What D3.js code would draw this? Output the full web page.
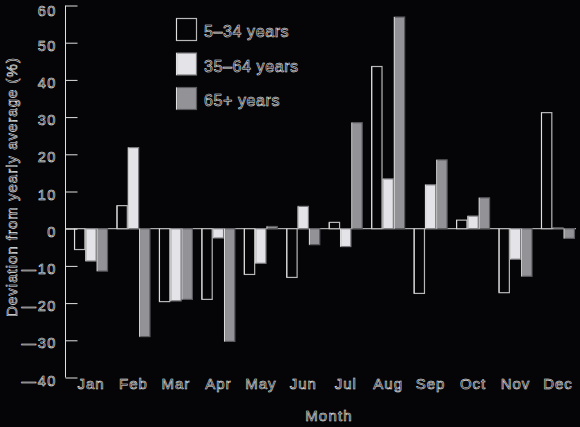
<!DOCTYPE html>
<html><head><meta charset="utf-8">
<script src="https://cdn.jsdelivr.net/npm/d3@7/dist/d3.min.js"></script>
<style>
html,body{margin:0;padding:0;background:#050407;}
svg{display:block;}
.t{font-family:"Liberation Sans",Arial,sans-serif;fill:#050407;stroke:#ececec;stroke-width:0.55px;}
</style></head>
<body>
<script>
const months = ["Jan","Feb","Mar","Apr","May","Jun","Jul","Aug","Sep","Oct","Nov","Dec"];
const seriesNames = ["5–34 years","35–64 years","65+ years"];
const young  = [-5.6, 6.2, -19.6, -19.0, -12.3, -13.1, 1.7, 43.6, -17.4, 2.3, -17.2, 31.2];
const middle = [-8.7, 21.8, -19.4, -2.5, -9.3, 6.0, -4.8, 13.4, 11.8, 3.4, -8.2, 0.2];
const old    = [-11.4, -29.0, -19.0, -30.3, 0.6, -4.3, 28.5, 56.9, 18.5, 8.3, -12.8, -2.6];
const yTicks = [60, 50, 40, 30, 20, 10, 0, -10, -20, -30, -40];

const W = 580, H = 427;
const svg = d3.select("body").append("svg").attr("width", W).attr("height", H);
svg.append("rect").attr("width", W).attr("height", H).attr("fill", "#050407");

const y = d3.scaleLinear().domain([-40, 60]).range([377.5, 5.5]);
const x = d3.scaleBand().domain(months).range([69.8, 579.2]).paddingInner(0.2).paddingOuter(0.1);
const xs = d3.scaleBand().domain([0,1,2]).range([0, x.bandwidth()]);

const fills = ["#050407", "#e4e4e8", "#939397"];
const strokes = ["#b8b8b8", "#7a7a7e", "#5a5a5e"];
const data = [young, middle, old];

// zero line
svg.append("line").attr("x1", 65.5).attr("x2", 576).attr("y1", y(0)).attr("y2", y(0))
  .attr("stroke", "#d0d0d0").attr("stroke-width", 1);

data.forEach((vals, si) => {
  svg.append("g").selectAll("rect").data(vals).join("rect")
    .attr("x", (d, i) => x(months[i]) + xs(si) + 0.5)
    .attr("width", xs.bandwidth() - 1)
    .attr("y", d => y(Math.max(0, d)))
    .attr("height", d => Math.abs(y(d) - y(0)))
    .attr("fill", fills[si])
    .attr("stroke", strokes[si])
    .attr("stroke-width", 1.2);
  svg.append("g").selectAll("line").data(vals).join("line")
    .attr("x1", (d, i) => x(months[i]) + xs(si) + 0.5)
    .attr("x2", (d, i) => x(months[i]) + xs(si) + 0.5)
    .attr("y1", d => y(Math.max(0, d)))
    .attr("y2", d => y(Math.min(0, d)))
    .attr("stroke", "#e0e0e0").attr("stroke-width", 1);
});

// y axis
const yAxis = d3.axisRight(y).tickValues(yTicks).tickSize(12).tickFormat("");
const gy = svg.append("g").attr("transform", "translate(65.5,0)").call(yAxis);
gy.select(".domain").attr("stroke", "#e0e0e0").attr("d", `M0,${y(60)}V${y(-40)}`);
gy.selectAll(".tick line").attr("stroke", "#e0e0e0");

svg.append("g").selectAll("text").data(yTicks).join("text")
  .attr("class", "t")
  .attr("x", 57).attr("y", d => y(d) + (d === 60 ? 10 : 8))
  .attr("text-anchor", "end")
  .attr("font-size", 14.5).attr("letter-spacing", 1.6)
  .text(d => d < 0 ? "—" + (-d) : d);

// month labels
svg.append("g").selectAll("text").data(months).join("text")
  .attr("class", "t")
  .attr("x", d => x(d) + x.bandwidth() / 2)
  .attr("y", 389)
  .attr("text-anchor", "middle")
  .attr("font-size", 15).attr("letter-spacing", 1)
  .text(d => d);

svg.append("text").attr("class", "t")
  .attr("x", 329).attr("y", 421).attr("text-anchor", "middle")
  .attr("font-size", 15).attr("letter-spacing", 1.2).text("Month");

svg.append("text").attr("class", "t")
  .attr("transform", "translate(17,187) rotate(-90)")
  .attr("text-anchor", "middle")
  .attr("font-size", 15).attr("letter-spacing", 1)
  .text("Deviation from yearly average (%)");

// legend
const lg = svg.append("g");
seriesNames.forEach((name, i) => {
  const yy = 18.5 + i * 34.5;
  lg.append("rect").attr("x", 176.5).attr("y", yy).attr("width", 20).attr("height", 22)
    .attr("fill", fills[i]).attr("stroke", strokes[i]).attr("stroke-width", 1.2);
  lg.append("line").attr("x1", 176.5).attr("x2", 176.5).attr("y1", yy).attr("y2", yy + 22)
    .attr("stroke", "#e0e0e0");
  lg.append("text").attr("class", "t")
    .attr("x", 204).attr("y", yy + 18.5)
    .attr("font-size", 16).attr("letter-spacing", 0.6)
    .text(name);
});
</script>
</body></html>
